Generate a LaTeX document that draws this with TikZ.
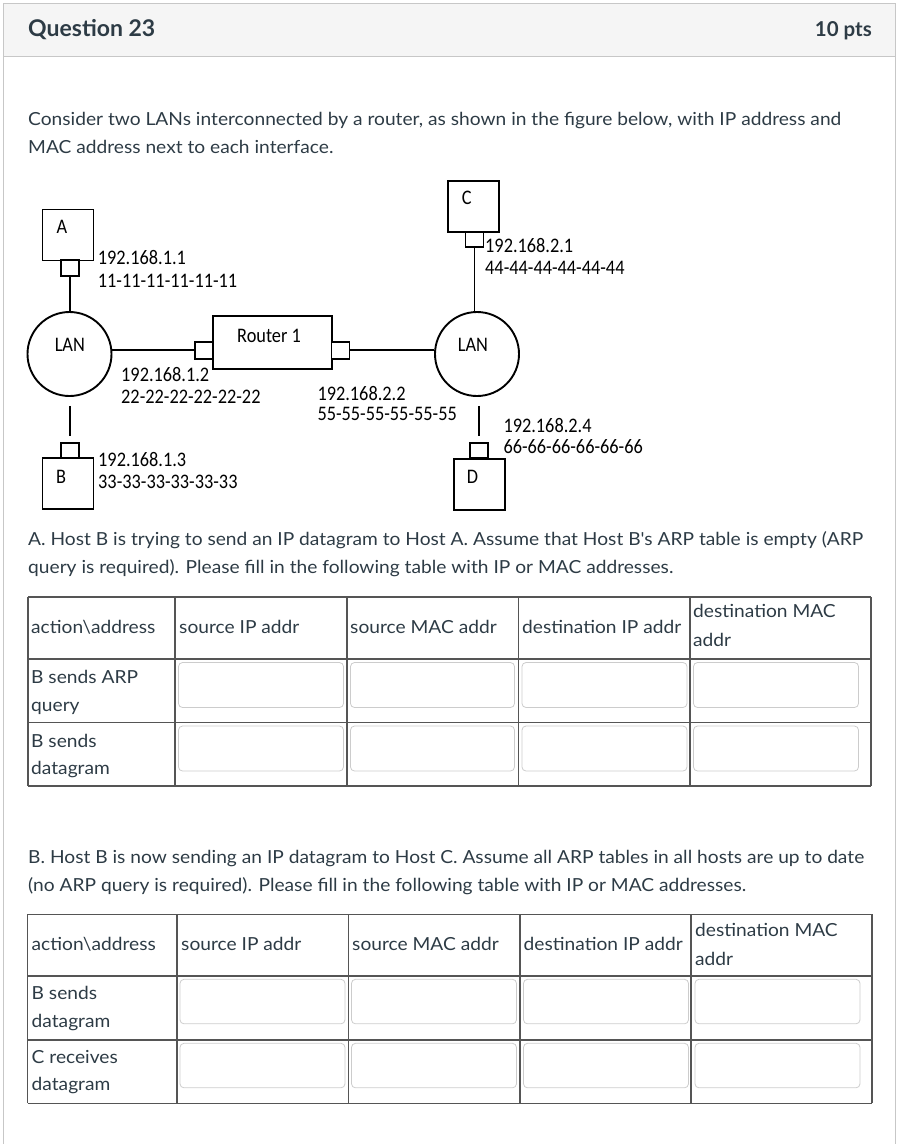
\documentclass[tikz,border=0pt]{standalone}
\usepackage{fontspec}
\setmainfont{Lato}
\newfontfamily\bodyfont[FakeStretch=1.065]{Lato}
\newfontfamily\netfont{Carlito}
\usepackage{tikz}
\usetikzlibrary{positioning}
\definecolor{canvastext}{RGB}{45,59,69}
\definecolor{hdrfill}{RGB}{245,245,245}
\definecolor{hdrline}{RGB}{199,199,199}
\definecolor{tblline}{RGB}{85,85,85}
\definecolor{fieldline}{RGB}{204,204,204}
\newcommand{\tall}[1]{\scalebox{1}[1.13]{#1}}

\begin{document}
\begin{tikzpicture}[x=1pt,y=-1pt,
    host/.style={draw,line width=1.9pt,minimum width=51pt,minimum height=51pt,inner sep=0pt},
    port/.style={draw,line width=1.9pt,fill=white,minimum width=18pt,minimum height=16pt,inner sep=0pt},
    lan/.style={draw,circle,line width=1.9pt,minimum size=84pt,inner sep=0pt},
    wire/.style={line width=1.9pt},
    netlbl/.style={font=\netfont\fontsize{18.3}{20}\selectfont,inner sep=0pt,anchor=base west},
    body/.style={font=\bodyfont\fontsize{18}{21}\selectfont,text=canvastext,inner sep=0pt,anchor=base west},
    head/.style={font=\bfseries,text=canvastext,inner sep=0pt,anchor=base west},
    tbl/.style={line width=1.6pt,tblline},
    field/.style={line width=0.8pt,fieldline,rounded corners=4pt}]
  \useasboundingbox (0,0) rectangle (898,1144);

  % frame and header
  \draw[hdrline,fill=hdrfill,line width=1pt] (3,3) rectangle (895,56);
  \draw[hdrline,line width=1pt] (3,56) -- (3,1144) (895,56) -- (895,1144);
  \node[head,font=\bfseries\fontsize{23}{26}\selectfont] (qtitle) at (28,36.5) {Question 23};
  \node[head,anchor=base east,font=\bfseries\fontsize{20.5}{24}\selectfont] (qpts) at (872,36) {10 pts};

  % intro
  \node[body] (intro1) at (28,125) {Consider two LANs interconnected by a router, as shown in the figure below, with IP address and};
  \node[body] (intro2) at (28,153) {MAC address next to each interface.};

  % hosts, ports, LANs
  \node[host] (hostA) at (68,235) {};
  \node[port] (portA) at (70,268) {};
  \node[lan] (lanL) at (69.5,354) {};
  \node[host,minimum width=119pt,minimum height=53pt] (router) at (272.5,342.5) {};
  \node[port,minimum height=17pt] (portRL) at (204,350.3) {};
  \node[port,minimum height=17pt] (portRR) at (340.5,350.3) {};
  \node[lan] (lanR) at (477,354) {};
  \node[host] (hostC) at (473.3,206.3) {};
  \node[port,minimum height=15pt] (portC) at (474.5,239.2) {};
  \node[host] (hostD) at (479.2,484.2) {};
  \node[port,minimum height=15pt] (portD) at (479.2,450.8) {};
  \node[host] (hostB) at (68,483.7) {};
  \node[port,minimum height=15pt] (portB) at (69.7,450.8) {};

  \draw[wire] (portA.south) -- (portA.south |- lanL.north);
  \draw[wire] (portRL.west) -- (portRL.west -| lanL.east);
  \draw[wire] (portRR.east) -- (portRR.east -| lanR.west);
  \draw[wire] (portC.south) -- (portC.south |- lanR.north);
  \draw[wire,shorten <=9pt,shorten >=6pt] (portD.north |- lanR.south) -- (portD.north);
  \draw[wire,shorten <=9pt,shorten >=6pt] (portB.north |- lanL.south) -- (portB.north);

  % labels in the figure
  \node[netlbl,anchor=base] (labA) at (62,233) {\tall{A}};
  \node[netlbl,anchor=base] (labB) at (61,483) {\tall{B}};
  \node[netlbl,anchor=base] (labC) at (466.7,204) {\tall{C}};
  \node[netlbl,anchor=base] (labD) at (472.5,483) {\tall{D}};
  \node[netlbl] (labR) at (237,342.3) {\tall{Router 1}};
  \node[netlbl,anchor=base] (labLL) at (69.8,351.7) {\tall{LAN}};
  \node[netlbl,anchor=base] (labLR) at (473,351.7) {\tall{LAN}};
  \node[netlbl] (ipA) at (97.7,264) {\tall{192.168.1.1}};
  \node[netlbl] (macA) at (97.7,287) {\tall{11-11-11-11-11-11}};
  \node[netlbl] (ipRL) at (121,381.7) {\tall{192.168.1.2}};
  \node[netlbl] (macRL) at (121,403) {\tall{22-22-22-22-22-22}};
  \node[netlbl] (ipB) at (98,466.7) {\tall{192.168.1.3}};
  \node[netlbl] (macB) at (98,488) {\tall{33-33-33-33-33-33}};
  \node[netlbl] (ipC) at (485,252.7) {\tall{192.168.2.1}};
  \node[netlbl] (macC) at (485,274.3) {\tall{44-44-44-44-44-44}};
  \node[netlbl] (ipRR) at (317.3,400) {\tall{192.168.2.2}};
  \node[netlbl] (macRR) at (317.3,420) {\tall{55-55-55-55-55-55}};
  \node[netlbl] (ipD) at (503.3,432) {\tall{192.168.2.4}};
  \node[netlbl] (macD) at (503.3,453.3) {\tall{66-66-66-66-66-66}};

  % part A
  \node[body] (partA1) at (28,545) {A. Host B is trying to send an IP datagram to Host A. Assume that Host B's ARP table is empty (ARP};
  \node[body] (partA2) at (28,573) {query is required). Please fill in the following table with IP or MAC addresses.};

  \foreach \x in {28,175,347,518.5,690,871}
    \draw[tbl] (\x,597) -- (\x,786);
  \foreach \y in {597,659,722.5,786}
    \draw[tbl] (28,\y) -- (871,\y);
  \foreach \xa/\xb in {178.5/343.5,350.5/514.5,522/687,693.5/858.5}
    \foreach \ya in {662.5,726}
      \draw[field] (\xa,\ya) rectangle (\xb,\ya+45);

  \node[body] (hA1) at (31,633) {action\textbackslash address};
  \node[body] (hA2) at (179,633) {source IP addr};
  \node[body] (hA3) at (350,633) {source MAC addr};
  \node[body] (hA4) at (522,633) {destination IP addr};
  \node[body] (hA5) at (693,617) {destination MAC};
  \node[body] (hA5b) at (693,646) {addr};
  \node[body] (rA1) at (31,683) {B sends ARP};
  \node[body] (rA1b) at (31,711) {query};
  \node[body] (rA2) at (31,747) {B sends};
  \node[body] (rA2b) at (31,774) {datagram};

  % part B
  \node[body] (partB1) at (28,863) {B. Host B is now sending an IP datagram to Host C. Assume all ARP tables in all hosts are up to date};
  \node[body] (partB2) at (28,891) {(no ARP query is required). Please fill in the following table with IP or MAC addresses.};

  \foreach \x in {27.5,176.7,348.3,520,691,871.7}
    \draw[tbl] (\x,914.3) -- (\x,1103.3);
  \foreach \y in {914.3,976,1040,1103.3}
    \draw[tbl] (27.5,\y) -- (871.7,\y);
  \foreach \xa/\xb in {180/345,351.5/516.5,523.5/688.5,695/860}
    \foreach \ya in {979.3,1043.3}
      \draw[field] (\xa,\ya) rectangle (\xb,\ya+44.5);

  \node[body] (hB1) at (31.5,950) {action\textbackslash address};
  \node[body] (hB2) at (181,950) {source IP addr};
  \node[body] (hB3) at (352,950) {source MAC addr};
  \node[body] (hB4) at (523.5,950) {destination IP addr};
  \node[body] (hB5) at (695,936) {destination MAC};
  \node[body] (hB5b) at (695,965) {addr};
  \node[body] (rB1) at (31.5,999) {B sends};
  \node[body] (rB1b) at (31.5,1027) {datagram};
  \node[body] (rB2) at (31.5,1063) {C receives};
  \node[body] (rB2b) at (31.5,1090) {datagram};
\end{tikzpicture}
\end{document}
